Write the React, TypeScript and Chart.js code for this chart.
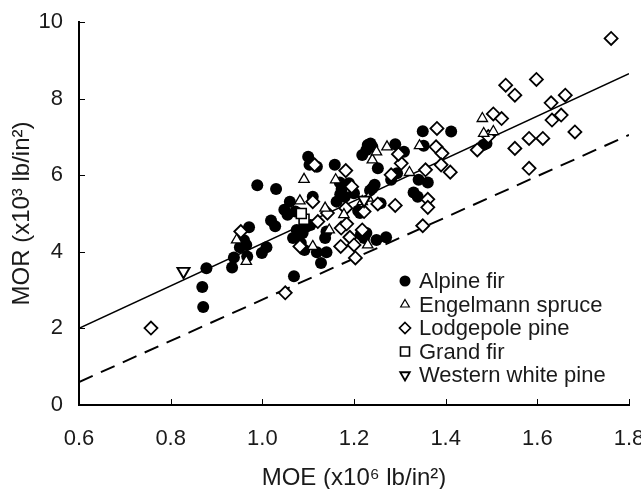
import React, { useEffect, useRef } from 'react';
import { Chart, registerables } from 'chart.js';

Chart.register(...registerables);

const alpineFirX = [0.869, 0.871, 0.878, 0.934, 0.938, 0.951, 0.96, 0.965, 0.967, 0.971, 0.989, 0.999, 1.009, 1.019, 1.028, 1.03, 1.048, 1.055, 1.06, 1.069, 1.067, 1.075, 1.079, 1.084, 1.088, 1.092, 1.097, 1.1, 1.103, 1.11, 1.119, 1.119, 1.128, 1.137, 1.14, 1.14, 1.158, 1.162, 1.169, 1.173, 1.18, 1.189, 1.2, 1.209, 1.213, 1.218, 1.227, 1.23, 1.236, 1.24, 1.24, 1.245, 1.252, 1.258, 1.227, 1.222, 1.249, 1.27, 1.281, 1.29, 1.294, 1.309, 1.33, 1.339, 1.341, 1.35, 1.352, 1.361, 1.412, 1.482, 1.489, 1.072, 1.105, 1.17, 1.215, 1.235];
const alpineFirY = [3.08, 2.56, 3.57, 3.59, 3.85, 4.12, 4.3, 4.18, 3.88, 4.64, 5.74, 3.97, 4.12, 4.82, 4.67, 5.64, 5.1, 4.97, 5.31, 3.36, 4.36, 4.57, 4.4, 4.23, 4.49, 4.05, 4.66, 6.48, 6.27, 5.44, 6.22, 3.99, 3.71, 4.36, 3.99, 4.53, 6.27, 5.31, 5.81, 5.64, 5.44, 5.79, 5.53, 5.07, 5.01, 6.53, 6.66, 6.79, 6.83, 6.74, 5.66, 5.75, 6.18, 5.27, 4.49, 4.36, 4.31, 4.38, 5.88, 6.81, 6.05, 6.61, 5.55, 5.44, 5.88, 7.15, 6.77, 5.81, 7.14, 6.79, 6.83, 5.05, 4.7, 5.5, 4.45, 5.6];

const engelmannX = [0.944, 0.965, 1.091, 1.082, 1.137, 1.146, 1.16, 1.178, 1.11, 1.24, 1.249, 1.272, 1.231, 1.218, 1.23, 1.321, 1.343, 1.48, 1.483, 1.504];
const engelmannY = [4.31, 3.75, 5.89, 5.33, 5.14, 4.57, 5.88, 4.97, 4.14, 6.4, 6.61, 6.74, 5.4, 5.31, 4.18, 6.07, 6.77, 7.48, 7.09, 7.14];

const lodgepoleX = [0.757, 0.953, 1.05, 1.082, 1.11, 1.114, 1.121, 1.142, 1.171, 1.172, 1.182, 1.182, 1.184, 1.191, 1.195, 1.2, 1.203, 1.218, 1.222, 1.252, 1.29, 1.281, 1.303, 1.297, 1.35, 1.356, 1.361, 1.361, 1.381, 1.379, 1.392, 1.39, 1.41, 1.469, 1.493, 1.504, 1.522, 1.531, 1.551, 1.551, 1.582, 1.582, 1.598, 1.612, 1.63, 1.632, 1.652, 1.661, 1.682, 1.761];
const lodgepoleY = [2.01, 4.53, 2.93, 4.14, 5.31, 6.27, 4.79, 5.01, 4.14, 4.62, 6.12, 5.14, 4.73, 4.38, 5.7, 4.18, 3.84, 4.57, 5.05, 5.25, 5.21, 6.01, 6.31, 6.55, 4.68, 6.14, 5.37, 5.16, 7.22, 6.74, 6.57, 6.27, 6.08, 6.66, 7.01, 7.6, 7.48, 8.35, 8.09, 6.7, 6.96, 6.18, 8.5, 6.96, 7.89, 7.44, 7.57, 8.09, 7.13, 9.57];

const grandFirX = [1.091, 1.085];
const grandFirY = [4.85, 5.0];

const westernWhiteX = [0.828, 1.222];
const westernWhiteY = [3.49, 5.35];

const fitLineX = [0.6, 1.8];
const fitLineY = [2.0, 8.65];
const lowerLineX = [0.6, 1.8];
const lowerLineY = [0.6, 7.05];

const xTicks = [0.6, 0.8, 1.0, 1.2, 1.4, 1.6, 1.8];
const yTicks = [0, 2, 4, 6, 8, 10];

const seriesNames = ['Alpine fir', 'Engelmann spruce', 'Lodgepole pine', 'Grand fir', 'Western white pine'];

const FONT = "'Liberation Sans', Arial, Helvetica, sans-serif";
const TEXT = '#1a1a1a';

const pts = (xs: number[], ys: number[]) => xs.map((x, i) => ({ x, y: ys[i] }));

function drawMarker(ctx: CanvasRenderingContext2D, kind: number, x: number, y: number) {
  ctx.save();
  ctx.strokeStyle = '#000';
  ctx.fillStyle = '#fff';
  ctx.lineWidth = 1.5;
  ctx.beginPath();
  if (kind === 0) {
    ctx.fillStyle = '#000';
    ctx.arc(x, y, 5.5, 0, Math.PI * 2);
    ctx.fill();
  } else if (kind === 1) {
    const r = 5;
    ctx.lineWidth = 1.2;
    ctx.moveTo(x, y - r);
    ctx.lineTo(x + r * 0.87, y + r * 0.5);
    ctx.lineTo(x - r * 0.87, y + r * 0.5);
    ctx.closePath();
    ctx.fill();
    ctx.stroke();
  } else if (kind === 2) {
    const r = 5.5;
    ctx.lineWidth = 1.7;
    ctx.moveTo(x, y - r);
    ctx.lineTo(x + r, y);
    ctx.lineTo(x, y + r);
    ctx.lineTo(x - r, y);
    ctx.closePath();
    ctx.fill();
    ctx.stroke();
  } else if (kind === 3) {
    ctx.lineWidth = 1.6;
    ctx.rect(x - 4.5, y - 4.5, 9, 9);
    ctx.fill();
    ctx.stroke();
  } else {
    const r = 5.5;
    ctx.lineWidth = 1.8;
    ctx.moveTo(x, y + r);
    ctx.lineTo(x + r * 0.87, y - r * 0.5);
    ctx.lineTo(x - r * 0.87, y - r * 0.5);
    ctx.closePath();
    ctx.fill();
    ctx.stroke();
  }
  ctx.restore();
}

const legendPlugin = {
  id: 'insideLegend',
  afterDraw(chart: any) {
    const { ctx, chartArea } = chart;
    const x0 = chartArea.right - 224;
    const y0 = chartArea.bottom - 124;
    ctx.save();
    ctx.font = `22px ${FONT}`;
    ctx.textBaseline = 'middle';
    ctx.textAlign = 'left';
    seriesNames.forEach((name, i) => {
      const y = y0 + i * 23.5;
      drawMarker(ctx, i, x0, y);
      ctx.fillStyle = TEXT;
      ctx.fillText(name, x0 + 14, y + 1);
    });
    ctx.restore();
  },
};

const inwardTicks = {
  id: 'inwardTicks',
  afterDraw(chart: any) {
    const { ctx, chartArea, scales } = chart;
    ctx.save();
    ctx.strokeStyle = '#000';
    ctx.lineWidth = 1;
    ctx.beginPath();
    xTicks.forEach((v) => {
      const px = Math.round(scales.x.getPixelForValue(v)) + 0.5;
      ctx.moveTo(px, chartArea.bottom);
      ctx.lineTo(px, chartArea.bottom - 6);
    });
    yTicks.forEach((v) => {
      const py = Math.round(scales.y.getPixelForValue(v)) + 0.5;
      ctx.moveTo(chartArea.left, py);
      ctx.lineTo(chartArea.left + 6, py);
    });
    ctx.stroke();
    ctx.restore();
  },
};

export default function App() {
  const ref = useRef<HTMLCanvasElement | null>(null);

  useEffect(() => {
    document.body.style.margin = '0';
    if (!ref.current) return;
    const chart = new Chart(ref.current, {
      type: 'scatter',
      data: {
        datasets: [
          {
            label: seriesNames[0],
            data: pts(alpineFirX, alpineFirY),
            pointStyle: 'circle',
            pointRadius: 6,
            backgroundColor: '#000',
            borderColor: '#000',
            borderWidth: 0,
            order: 5,
          },
          {
            label: seriesNames[1],
            data: pts(engelmannX, engelmannY),
            pointStyle: 'triangle',
            pointRadius: 6,
            backgroundColor: '#fff',
            borderColor: '#000',
            borderWidth: 1.3,
            order: 3,
          },
          {
            label: seriesNames[2],
            data: pts(lodgepoleX, lodgepoleY),
            pointStyle: 'rectRot',
            pointRadius: 6.5,
            backgroundColor: '#fff',
            borderColor: '#000',
            borderWidth: 1.8,
            order: 4,
          },
          {
            label: seriesNames[3],
            data: pts(grandFirX, grandFirY),
            pointStyle: 'rect',
            pointRadius: 7,
            backgroundColor: '#fff',
            borderColor: '#000',
            borderWidth: 1.6,
            order: 2,
          },
          {
            label: seriesNames[4],
            data: pts(westernWhiteX, westernWhiteY),
            pointStyle: 'triangle',
            rotation: 180,
            pointRadius: 7,
            backgroundColor: '#fff',
            borderColor: '#000',
            borderWidth: 1.9,
            order: 1,
          },
          {
            type: 'line',
            label: 'fit',
            data: pts(fitLineX, fitLineY),
            borderColor: '#000',
            borderWidth: 1.5,
            pointRadius: 0,
            showLine: true,
            fill: false,
            order: 10,
          },
          {
            type: 'line',
            label: 'lower',
            data: pts(lowerLineX, lowerLineY),
            borderColor: '#000',
            borderWidth: 2,
            borderDash: [15, 9],
            pointRadius: 0,
            showLine: true,
            fill: false,
            order: 11,
          },
        ] as any,
      },
      options: {
        animation: false,
        responsive: false,
        devicePixelRatio: 1,
        layout: { autoPadding: false, padding: { top: 22, right: 12, left: 0, bottom: 0 } },
        plugins: {
          legend: { display: false },
          tooltip: { enabled: false },
        },
        scales: {
          x: {
            type: 'linear',
            min: 0.6,
            max: 1.8,
            afterFit: (s: any) => {
              s.height = 84;
              s.paddingLeft = 0;
              s.paddingRight = 0;
              s.paddingTop = 0;
              s.paddingBottom = 0;
            },
            afterBuildTicks: (s: any) => { s.ticks = xTicks.map((v) => ({ value: v })); },
            grid: { display: true, drawOnChartArea: false, drawTicks: false },
            border: { display: true, color: '#000', width: 2 },
            ticks: {
              padding: 21,
              color: TEXT,
              font: { family: FONT, size: 22 },
              callback: (v: any) => Number(v).toFixed(1),
            },
            title: {
              display: true,
              text: 'MOE (x10⁶ lb/in²)',
              color: TEXT,
              font: { family: FONT, size: 24 },
              padding: { top: 0, bottom: -4 },
            },
          },
          y: {
            type: 'linear',
            min: 0,
            max: 10,
            afterFit: (s: any) => {
              s.width = 79;
              s.paddingLeft = 0;
              s.paddingRight = 0;
              s.paddingTop = 0;
              s.paddingBottom = 0;
            },
            afterBuildTicks: (s: any) => { s.ticks = yTicks.map((v) => ({ value: v })); },
            grid: { display: true, drawOnChartArea: false, drawTicks: false },
            border: { display: true, color: '#000', width: 2 },
            ticks: {
              padding: 16,
              color: TEXT,
              font: { family: FONT, size: 22 },
              callback: (v: any) => String(v),
            },
            title: {
              display: true,
              text: 'MOR (x10³ lb/in²)',
              color: TEXT,
              font: { family: FONT, size: 24 },
              padding: { top: 8, bottom: 0 },
            },
          },
        },
      },
      plugins: [inwardTicks, legendPlugin],
    });
    return () => chart.destroy();
  }, []);

  return <canvas ref={ref} width={641} height={489} style={{ display: 'block', width: 641, height: 489 }} />;
}
